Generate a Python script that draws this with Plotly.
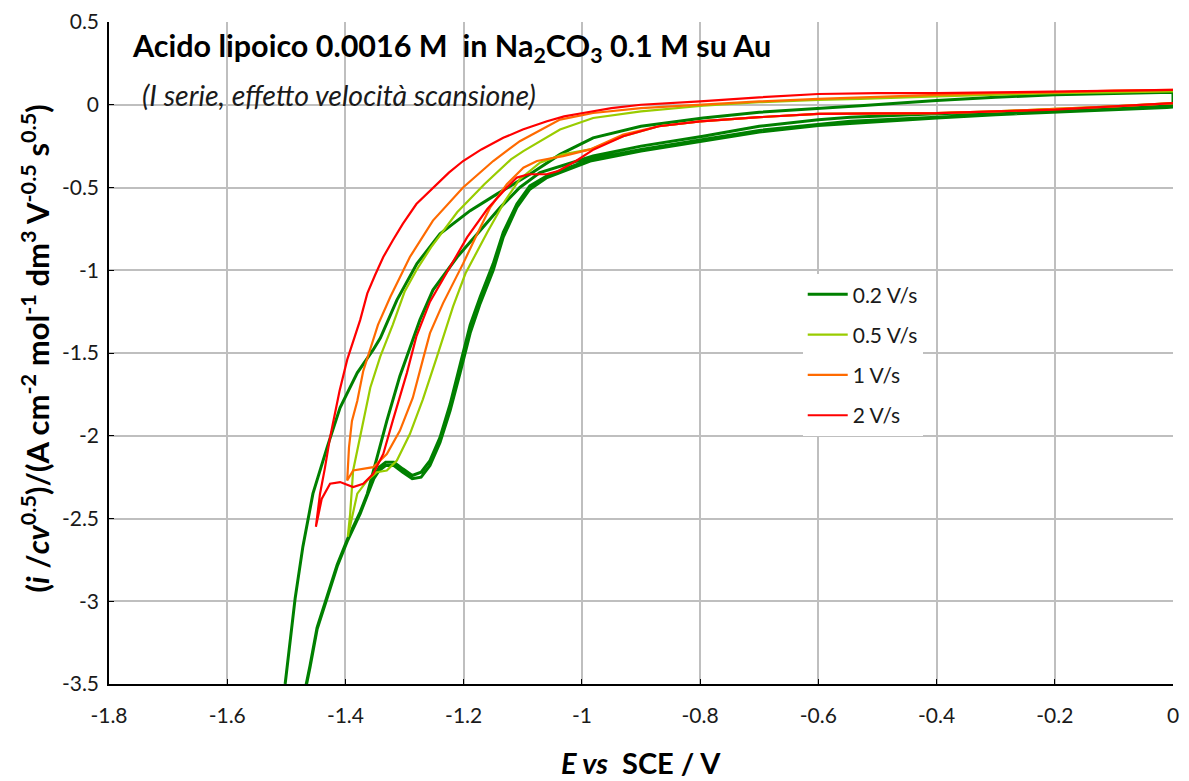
import plotly.graph_objects as go

# ---------------- data ----------------
# 0.2 V/s : three forward scans and the reverse scan (repeated each cycle)
g_f1_E = [0, -0.1, -0.2, -0.3, -0.4, -0.546, -0.6, -0.7, -0.795, -0.9, -0.986, -1.037, -1.059, -1.088, -1.11,
          -1.133, -1.15, -1.172, -1.189, -1.206, -1.223, -1.24, -1.257, -1.272, -1.287, -1.303, -1.318, -1.332,
          -1.343, -1.352, -1.36, -1.375, -1.396, -1.414, -1.431, -1.448, -1.46, -1.47, -1.48]
g_f1_i = [-0.015, -0.03, -0.045, -0.06, -0.08, -0.11, -0.125, -0.165, -0.22, -0.28, -0.34, -0.41, -0.44, -0.51, -0.62,
          -0.80, -1.00, -1.20, -1.38, -1.62, -1.85, -2.04, -2.18, -2.25, -2.26, -2.22, -2.18, -2.18,
          -2.21, -2.26, -2.33, -2.47, -2.63, -2.79, -2.98, -3.17, -3.40, -3.58, -3.75]
g_f2_E = [0, -0.2, -0.4, -0.546, -0.7, -0.795, -0.9, -0.986, -1.037, -1.059, -1.088, -1.11, -1.133, -1.15, -1.172,
          -1.189, -1.206, -1.223, -1.24, -1.257, -1.272, -1.287, -1.303, -1.318, -1.332, -1.343, -1.352, -1.36,
          -1.375, -1.396, -1.414, -1.431, -1.448, -1.46, -1.47, -1.48]
g_f2_i = [-0.01, -0.04, -0.075, -0.10, -0.155, -0.21, -0.27, -0.33, -0.40, -0.43, -0.49, -0.60, -0.77, -0.96, -1.16,
          -1.33, -1.57, -1.81, -2.01, -2.15, -2.22, -2.24, -2.20, -2.16, -2.16, -2.19, -2.25, -2.32,
          -2.46, -2.62, -2.78, -2.97, -3.16, -3.39, -3.57, -3.74]
g_f3_E = [0, -0.1, -0.2, -0.3, -0.4, -0.546, -0.6, -0.7, -0.795, -0.9, -0.981, -1.037, -1.071, -1.105, -1.138,
          -1.172, -1.211, -1.252, -1.274, -1.291, -1.308, -1.33, -1.35, -1.363, -1.375, -1.396, -1.414, -1.431,
          -1.448, -1.46, -1.47, -1.48]
g_f3_i = [-0.005, -0.02, -0.03, -0.045, -0.055, -0.076, -0.09, -0.13, -0.19, -0.25, -0.31, -0.37, -0.41, -0.50, -0.62,
          -0.76, -0.92, -1.12, -1.30, -1.47, -1.64, -1.91, -2.18, -2.35, -2.47, -2.63, -2.79, -2.98,
          -3.17, -3.40, -3.58, -3.75]
g_r_E = [-1.52, -1.502, -1.485, -1.472, -1.455, -1.431, -1.409, -1.38, -1.353, -1.341, -1.313, -1.279, -1.24,
         -1.189, -1.144, -1.088, -1.037, -0.981, -0.9, -0.795, -0.7, -0.6, -0.529, -0.4, -0.3, -0.2, -0.1, 0]
g_r_i = [-3.75, -3.5, -2.98, -2.67, -2.35, -2.07, -1.83, -1.62, -1.48, -1.41, -1.18, -0.96, -0.78,
         -0.64, -0.54, -0.42, -0.30, -0.20, -0.13, -0.08, -0.045, -0.02, -0.006, 0.025, 0.045, 0.06, 0.068, 0.075]

# 0.5 V/s
lg_f_E = [0, -0.1, -0.2, -0.3, -0.4, -0.5, -0.6, -0.7, -0.8, -0.87, -0.93, -0.986, -1.032, -1.071, -1.105,
          -1.13, -1.16, -1.197, -1.218, -1.245, -1.269, -1.291, -1.313, -1.33, -1.347, -1.363, -1.38, -1.396]
lg_f_i = [0.01, -0.01, -0.025, -0.04, -0.05, -0.052, -0.055, -0.075, -0.10, -0.13, -0.19, -0.27, -0.30, -0.35, -0.45,
          -0.58, -0.77, -1.02, -1.22, -1.52, -1.78, -1.99, -2.15, -2.21, -2.22, -2.27, -2.35, -2.61]
lg_r_E = [-1.396, -1.392, -1.387, -1.379, -1.37, -1.358, -1.341, -1.32, -1.30, -1.28, -1.255, -1.211, -1.165,
          -1.12, -1.099, -1.076, -1.037, -0.981, -0.9, -0.795, -0.7, -0.6, -0.529, -0.4, -0.3, -0.2, -0.1, 0]
lg_r_i = [-2.61, -2.47, -2.21, -2.07, -1.91, -1.71, -1.52, -1.33, -1.13, -1.00, -0.86, -0.65, -0.48,
          -0.33, -0.28, -0.23, -0.15, -0.08, -0.04, -0.006, 0.015, 0.03, 0.035, 0.05, 0.06, 0.07, 0.075, 0.08]

# 1 V/s
o_f_E = [0, -0.1, -0.2, -0.3, -0.4, -0.5, -0.6, -0.7, -0.8, -0.87, -0.93, -0.986, -1.032, -1.076, -1.099,
         -1.127, -1.155, -1.177, -1.201, -1.235, -1.257, -1.269, -1.286, -1.308, -1.33, -1.353, -1.37, -1.387, -1.397]
o_f_i = [0.01, -0.01, -0.025, -0.04, -0.05, -0.052, -0.055, -0.075, -0.10, -0.13, -0.18, -0.27, -0.31, -0.34, -0.38,
         -0.48, -0.62, -0.78, -0.96, -1.20, -1.38, -1.54, -1.77, -1.97, -2.11, -2.19, -2.20, -2.21, -2.27]
o_r_E = [-1.397, -1.394, -1.389, -1.38, -1.37, -1.358, -1.345, -1.324, -1.291, -1.252, -1.201, -1.15, -1.105,
         -1.037, -0.981, -0.9, -0.8, -0.7, -0.6, -0.53, -0.4, -0.3, -0.2, -0.1, 0]
o_r_i = [-2.27, -2.07, -1.91, -1.79, -1.61, -1.47, -1.33, -1.16, -0.92, -0.70, -0.50, -0.34, -0.22,
         -0.09, -0.05, -0.02, 0.0, 0.02, 0.035, 0.045, 0.06, 0.07, 0.075, 0.085, 0.09]

# 2 V/s
r_f_E = [0, -0.1, -0.2, -0.3, -0.4, -0.5, -0.6, -0.7, -0.8, -0.87, -0.93, -0.98, -1.01, -1.04, -1.06, -1.09,
         -1.11, -1.127, -1.16, -1.194, -1.223, -1.257, -1.28, -1.296, -1.32, -1.336, -1.353, -1.37, -1.387,
         -1.409, -1.426, -1.44, -1.45]
r_f_i = [0.01, -0.01, -0.03, -0.04, -0.05, -0.052, -0.055, -0.075, -0.10, -0.13, -0.19, -0.27, -0.34, -0.40, -0.42, -0.42,
         -0.44, -0.50, -0.63, -0.80, -0.98, -1.19, -1.40, -1.62, -1.91, -2.11, -2.23, -2.29, -2.31,
         -2.28, -2.29, -2.38, -2.55]
r_r_E = [-1.45, -1.443, -1.435, -1.426, -1.41, -1.397, -1.375, -1.363, -1.35, -1.336, -1.32, -1.303, -1.28, -1.252,
         -1.225, -1.201, -1.17, -1.133, -1.1, -1.059, -1.03, -0.998, -0.95, -0.9, -0.8, -0.7, -0.6, -0.5, -0.4,
         -0.3, -0.2, -0.1, 0]
r_r_i = [-2.55, -2.35, -2.2, -2.01, -1.73, -1.54, -1.30, -1.14, -1.03, -0.92, -0.82, -0.72, -0.60, -0.50,
         -0.41, -0.34, -0.27, -0.20, -0.15, -0.10, -0.07, -0.05, -0.02, 0.0, 0.02, 0.045, 0.065, 0.07, 0.07,
         0.075, 0.08, 0.085, 0.09]

series_names = ["0.2 V/s", "0.5 V/s", "1 V/s", "2 V/s"]
series_colors = ["#008000", "#99CC00", "#FF6A00", "#FF0000"]
series_widths = [3, 2.2, 2.2, 2.2]

x_tick_vals = [-1.8, -1.6, -1.4, -1.2, -1.0, -0.8, -0.6, -0.4, -0.2, 0]
x_tick_text = ["-1.8", "-1.6", "-1.4", "-1.2", "-1", "-0.8", "-0.6", "-0.4", "-0.2", "0"]
y_tick_vals = [0.5, 0, -0.5, -1, -1.5, -2, -2.5, -3, -3.5]
y_tick_text = ["0.5", "0", "-0.5", "-1", "-1.5", "-2", "-2.5", "-3", "-3.5"]

# build each series as one continuous path
series_E = [
    g_f1_E + g_r_E + g_f2_E + g_r_E + g_f3_E + g_r_E,
    lg_f_E + lg_r_E,
    o_f_E + o_r_E,
    r_f_E + r_r_E,
]
series_i = [
    g_f1_i + g_r_i + g_f2_i + g_r_i + g_f3_i + g_r_i,
    lg_f_i + lg_r_i,
    o_f_i + o_r_i,
    r_f_i + r_r_i,
]

FONT = "Lato, 'Open Sans', sans-serif"
TXT = "#1a1a1a"

fig = go.Figure()
for k in range(4):
    fig.add_trace(go.Scatter(
        x=series_E[k], y=series_i[k], mode="lines", name=series_names[k],
        legendgroup=series_names[k],
        line=dict(color=series_colors[k], width=series_widths[k]),
    ))

axis_common = dict(
    showgrid=True, gridcolor="#BFBFBF", gridwidth=1.5,
    showline=True, linecolor="#000000", linewidth=1.5,
    ticks="inside", ticklen=5, tickcolor="#000000", tickwidth=1,
    zeroline=False, automargin=False, tickfont=dict(size=21, color=TXT, family=FONT),
)
fig.update_xaxes(range=[-1.8, 0], tickvals=x_tick_vals, ticktext=x_tick_text,
                 ticklabelstandoff=12, **axis_common)
fig.update_yaxes(range=[-3.5, 0.5], tickvals=y_tick_vals, ticktext=y_tick_text,
                 ticklabelstandoff=4, **axis_common)

fig.update_layout(
    width=1189, height=781,
    margin=dict(l=109, r=16, t=22, b=97),
    plot_bgcolor="white", paper_bgcolor="white",
    font=dict(family=FONT, color="#000000"),
    legend=dict(
        x=0.652, y=0.619, xanchor="left", yanchor="top",
        bgcolor="white", borderwidth=0,
        font=dict(size=21, family=FONT, color=TXT),
        tracegroupgap=10, itemwidth=40,
    ),
    annotations=[
        dict(text="<b>Acido lipoico 0.0016 M  in Na<sub>2</sub>CO<sub>3</sub> 0.1 M su Au</b>",
             xref="paper", yref="paper", x=0.0197, y=0.962, xanchor="left", yanchor="middle",
             showarrow=False, font=dict(size=30.5, family=FONT, color="#000000")),
        dict(text="<i>(I serie, effetto velocità scansione)</i>",
             xref="paper", yref="paper", x=0.029, y=0.890, xanchor="left", yanchor="middle",
             showarrow=False, font=dict(size=28.5, family=FONT, color=TXT)),
        dict(text="<b><i>E vs</i>  SCE / V</b>",
             xref="paper", yref="paper", x=0.5, y=-0.118, xanchor="center", yanchor="middle",
             showarrow=False, font=dict(size=29, family=FONT, color="#000000")),
        dict(text="<b>(<i>i</i> /<i>cv</i><sup>0.5</sup>)/(A cm<sup>-2</sup> mol<sup>-1</sup> dm<sup>3</sup> V<sup>-0.5</sup> s<sup>0.5</sup>)</b>",
             xref="paper", yref="paper", x=-0.0695, y=0.507, xanchor="center", yanchor="middle",
             textangle=-90, showarrow=False, font=dict(size=31, family=FONT, color="#000000")),
    ],
)

fig.write_html("out.html")
